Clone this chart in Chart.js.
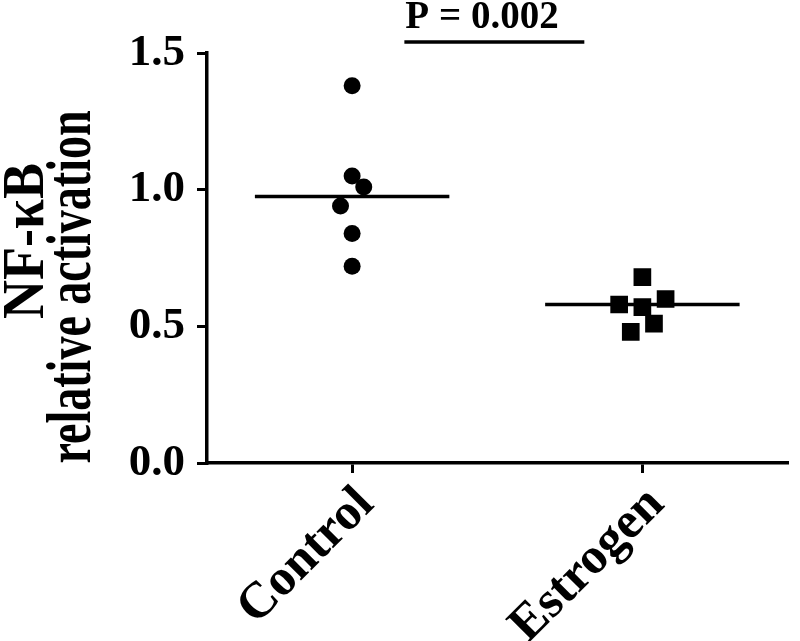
<!DOCTYPE html>
<html>
<head>
<meta charset="utf-8">
<script src="https://cdn.jsdelivr.net/npm/chart.js@4"></script>
<style>
  html, body { margin: 0; padding: 0; background: #fff; }
  #wrap { width: 800px; height: 641px; }
</style>
</head>
<body>
<div id="wrap"><canvas id="nfkbChart"></canvas></div>
<script>
const groups = ['Control', 'Estrogen'];
const controlX = [0, 0, 0.04, -0.04, 0, 0];
const controlY = [1.38, 1.05, 1.01, 0.94, 0.84, 0.72];
const estrogenX = [1, 0.92, 1, 1.08, 1.04, 0.96];
const estrogenY = [0.68, 0.58, 0.57, 0.60, 0.51, 0.48];
const means = [0.975, 0.58];
const meanHalfWidth = 0.335;
const yTicks = [0, 0.5, 1.0, 1.5];
const yTitle = ['NF-κB', 'relative activation'];

// significance bar
const pLabel = 'P = 0.002';
const pBarX = [0.18, 0.8];
const pBarY = 1.54;

const FONT = "'Liberation Serif', 'Times New Roman', serif";

function toPoints(xs, ys) {
    return ys.map((v, i) => ({ x: xs[i], y: v }));
}

function meanLine(i) {
    return [{ x: i - meanHalfWidth, y: means[i] }, { x: i + meanHalfWidth, y: means[i] }];
}

// P value text above the bar + the two line y title (the lines are sized differently in the original)
const textPlugin = {
    id: 'extraText',
    afterDraw(chart) {
        const { ctx, scales, chartArea } = chart;
        ctx.save();
        ctx.fillStyle = '#000';

        const px = scales.x.getPixelForValue(pBarX[0]);
        const py = scales.y.getPixelForValue(pBarY);
        ctx.font = 'bold 39px ' + FONT;
        ctx.textAlign = 'left';
        ctx.textBaseline = 'alphabetic';
        ctx.fillText(pLabel, px + 1, py - 14);

        // title lines, rotated
        const lines = [
            { text: yTitle[0], size: 54, stretch: 1.08, base: 43, mid: chartArea.top + 188 },
            { text: yTitle[1], size: 46, stretch: 1.4, base: 90, mid: chartArea.top + 234 }
        ];
        lines.forEach(l => {
            ctx.save();
            ctx.translate(l.base, l.mid);
            ctx.rotate(-Math.PI / 2);
            ctx.scale(1, l.stretch);
            ctx.font = 'bold ' + l.size + 'px ' + FONT;
            ctx.textAlign = 'center';
            ctx.fillText(l.text, 0, 0);
            ctx.restore();
        });
        ctx.restore();
    }
};

const ctx = document.getElementById('nfkbChart').getContext('2d');

new Chart(ctx, {
    type: 'scatter',
    data: {
        datasets: [
            {
                label: 'Control',
                data: toPoints(controlX, controlY),
                pointStyle: 'circle',
                pointRadius: 8.5,
                backgroundColor: '#000',
                borderColor: '#000',
                borderWidth: 0
            },
            {
                label: 'Estrogen',
                data: toPoints(estrogenX, estrogenY),
                pointStyle: 'rect',
                pointRadius: 12.5,
                backgroundColor: '#000',
                borderColor: '#000',
                borderWidth: 0
            },
            {
                type: 'line',
                label: 'Control mean',
                data: meanLine(0),
                borderColor: '#000',
                borderWidth: 3.5,
                pointRadius: 0
            },
            {
                type: 'line',
                label: 'Estrogen mean',
                data: meanLine(1),
                borderColor: '#000',
                borderWidth: 3.5,
                pointRadius: 0
            },
            {
                type: 'line',
                label: 'P bar',
                data: [{ x: pBarX[0], y: pBarY }, { x: pBarX[1], y: pBarY }],
                borderColor: '#000',
                borderWidth: 3.5,
                pointRadius: 0,
                clip: false
            }
        ]
    },
    options: {
        responsive: true,
        maintainAspectRatio: false,
        animation: false,
        layout: { padding: { top: 53, right: 3, left: 0, bottom: 0 } },
        plugins: {
            legend: { display: false },
            tooltip: { enabled: false }
        },
        scales: {
            x: {
                type: 'linear',
                min: -0.5,
                max: 1.5,
                afterBuildTicks: scale => { scale.ticks = groups.map((g, i) => ({ value: i })); },
                afterFit: scale => { scale.height = 178; },
                grid: { drawOnChartArea: false, drawTicks: true, tickLength: 10, color: '#000', lineWidth: 3 },
                border: { display: true, color: '#000', width: 3.5 },
                ticks: {
                    color: '#000',
                    font: { family: FONT, size: 51, weight: 'bold' },
                    minRotation: 45,
                    maxRotation: 45,
                    padding: 2,
                    labelOffset: 14,
                    callback: v => groups[v]
                }
            },
            y: {
                min: 0,
                max: 1.5,
                afterBuildTicks: scale => { scale.ticks = yTicks.map(v => ({ value: v })); },
                afterFit: scale => { scale.width = 207; },
                grid: { drawOnChartArea: false, drawTicks: true, tickLength: 10, color: '#000', lineWidth: 3 },
                border: { display: true, color: '#000', width: 3.5 },
                ticks: {
                    color: '#000',
                    font: { family: FONT, size: 45, weight: 'bold' },
                    padding: 12,
                    callback: v => v.toFixed(1)
                }
            }
        }
    },
    plugins: [textPlugin]
});
</script>
</body>
</html>
